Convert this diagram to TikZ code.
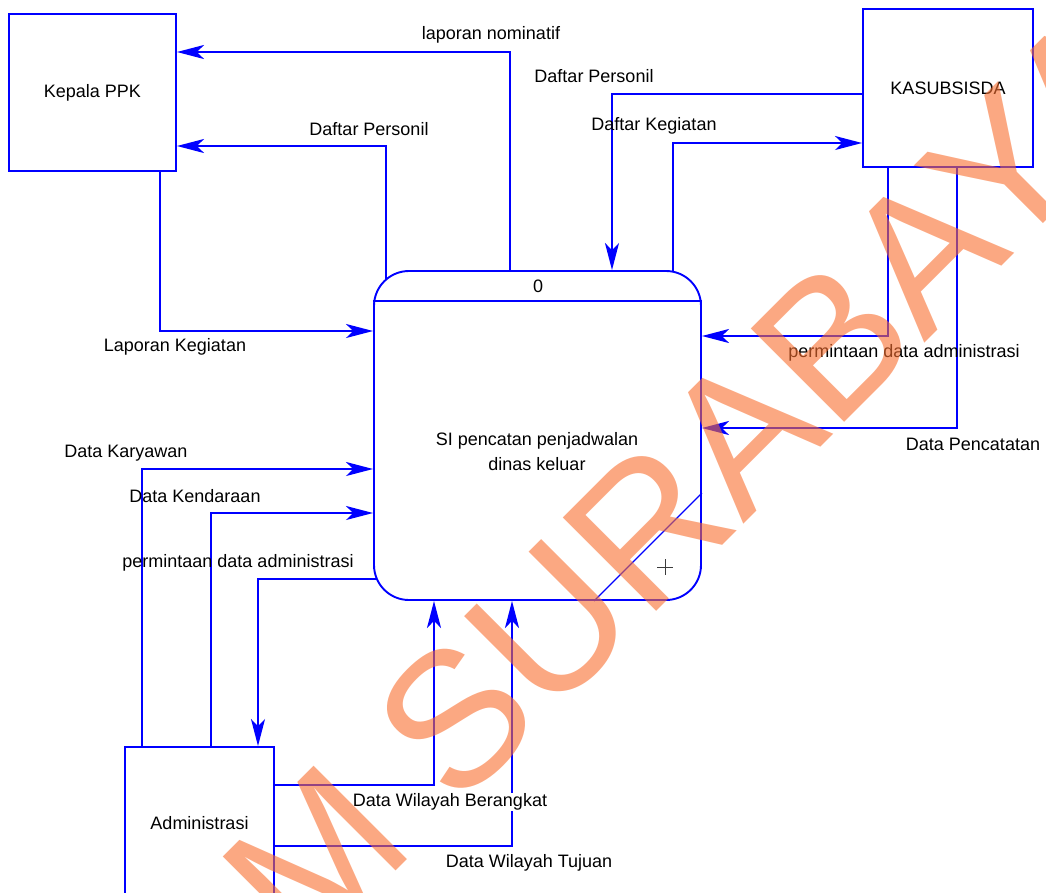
\documentclass[tikz,border=0pt]{standalone}
\usepackage{fontspec}
\setmainfont{Liberation Sans}
\usetikzlibrary{arrows.meta,calc}
\definecolor{flowblue}{RGB}{0,0,255}
\definecolor{wmark}{RGB}{248,110,47}
\definecolor{plusgray}{RGB}{60,60,60}
\tikzset{
  flow/.style={draw=flowblue, line width=1.9pt, -{Stealth[length=27pt,width=14pt,inset=7pt]}},
  entity/.style={draw=flowblue, line width=1.9pt, font=\fontsize{18}{21}\selectfont, align=center, inner sep=0pt},
  lbl/.style={font=\fontsize{18}{21}\selectfont, inner sep=1pt},
  wm/.style={font=\fontsize{192}{192}\selectfont, text=wmark, text opacity=0.6, inner sep=0pt},
}
\begin{document}
\begin{tikzpicture}[x=1pt,y=-1pt]
\useasboundingbox (0,0) rectangle (1046,892);
\begin{scope}
\clip (0,0) rectangle (1046,892);
% external entities
\node[entity, minimum width=167pt, minimum height=157pt] (kepala) at (92.5,92.5) {Kepala PPK};
\node[entity, minimum width=170pt, minimum height=158pt] (kasub) at (948,88) {KASUBSISDA};
\node[entity, minimum width=149pt, minimum height=152pt] (admin) at (199.5,823) {Administrasi};
% process
\node[draw=flowblue, line width=1.9pt, rounded corners=35pt, minimum width=327pt, minimum height=329pt, inner sep=0pt] (proc) at (537.5,435.5) {};
\coordinate (hdr) at (0,301);
\draw[draw=flowblue, line width=1.9pt] (proc.west |- hdr) -- (proc.east |- hdr);
\node[lbl] (pid) at (538,286) {0};
\node[lbl, align=center, font=\fontsize{18}{25}\selectfont] (ptext) at (537,452) {SI pencatan penjadwalan\\dinas keluar};
\coordinate (dg1) at (594,0);
\coordinate (dg2) at (0,493);
\draw[draw=flowblue, line width=1.3pt] (proc.south -| dg1) -- (proc.east |- dg2);
\draw[plusgray, line width=0.9pt] (657,567) -- (673,567) (665,559) -- (665,575);
% coordinates for connectors
\coordinate (ln) at (510,52);
\coordinate (dp) at (386,146);
\coordinate (dpstart) at (386,280);
\coordinate (lk) at (160,331);
\coordinate (dp2) at (612,94);
\coordinate (dk) at (673,143);
\coordinate (dkstart) at (673,272);
\coordinate (pr) at (888,336);
\coordinate (dpc) at (957,428);
\coordinate (dkr) at (142,469);
\coordinate (dkd) at (211,513);
\coordinate (plstart) at (377,579);
\coordinate (pl) at (258,0);
\coordinate (wb) at (434,785);
\coordinate (wt) at (512,846);
% connectors
\draw[flow] (proc.north -| ln) |- (kepala.east |- ln);
\draw[flow] (dpstart) |- (kepala.east |- dp);
\draw[flow] (kepala.south -| lk) |- (proc.west |- lk);
\draw[flow] (kasub.west |- dp2) -| (proc.north -| dp2);
\draw[flow] (dkstart) |- (kasub.west |- dk);
\draw[flow] (kasub.south -| pr) |- (proc.east |- pr);
\draw[flow] (kasub.south -| dpc) |- (proc.east |- dpc);
\draw[flow] (admin.north -| dkr) |- (proc.west |- dkr);
\draw[flow] (admin.north -| dkd) |- (proc.west |- dkd);
\draw[flow] (plstart) -| (admin.north -| pl);
\draw[flow] (admin.east |- wb) -| (proc.south -| wb);
\draw[flow] (admin.east |- wt) -| (proc.south -| wt);
% labels
\node[lbl] (l1) at (491,35) {laporan nominatif};
\node[lbl] (l2) at (369,129) {Daftar Personil};
\node[lbl] (l3) at (175,347) {Laporan Kegiatan};
\node[lbl] (l4) at (594,76) {Daftar Personil};
\node[lbl] (l5) at (654,126) {Daftar Kegiatan};
\node[lbl] (l6) at (904,353) {permintaan data administrasi};
\node[lbl] (l7) at (973,444) {Data Pencatatan};
\node[lbl] (l8) at (126,453) {Data Karyawan};
\node[lbl] (l9) at (195,496) {Data Kendaraan};
\node[lbl] (l10) at (238,563) {permintaan data administrasi};
\node[lbl, fill=white] (l11) at (450,802) {Data Wilayah Berangkat};
\node[lbl] (l12) at (529,863) {Data Wilayah Tujuan};
% watermark
\node[wm, rotate=45, anchor=base west] (wm2) at (456.3,810.9) {SURABAYA};
\node[wm, rotate=45, anchor=base east] (wm1) at (419,848.2) {STIKOM};
\end{scope}
\end{tikzpicture}
\end{document}
